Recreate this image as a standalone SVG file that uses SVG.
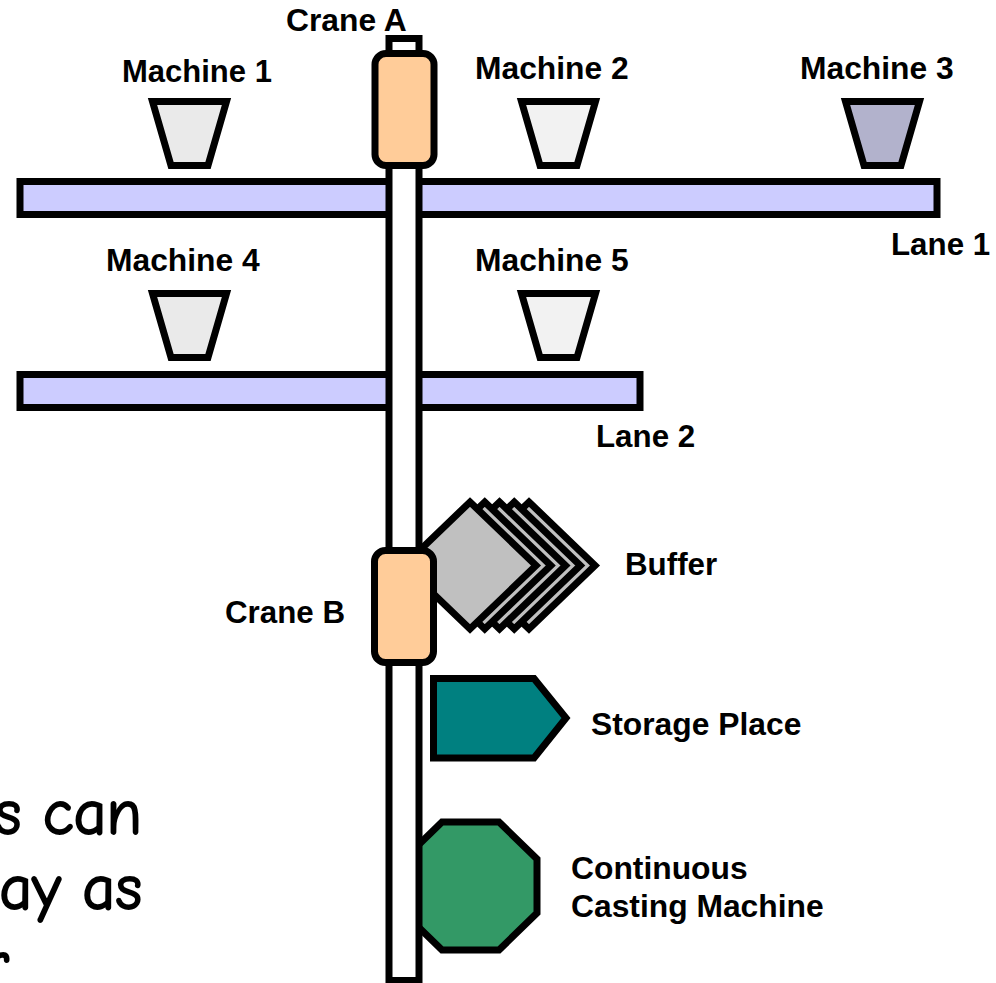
<svg xmlns="http://www.w3.org/2000/svg" width="996" height="983" viewBox="0 0 996 983">
<defs>
<style>
.s{stroke:#000;stroke-width:7;stroke-linejoin:miter}
.t{font-family:"Liberation Sans",Arial,sans-serif;font-weight:bold;font-size:31.800px;fill:#000}
.n{font-size:31px}
.l{font-size:31.300px}
.h{font-family:"Comic Sans MS","Comic Neue",cursive;font-size:64px;fill:#000;stroke:#000;stroke-width:1.800px}
.lane{fill:#ccccff}
.crane{fill:#ffcc99}
</style>
<polygon id="trap" points="152.500,101.500 226.500,101.500 208,165.500 171,165.500"/>
<polygon id="dia" points="470,502 536,565.500 470,629 404,565.500"/>
</defs>
<rect width="996" height="983" fill="#fff"/>
<g id="note"><text class="h" x="142" y="834" text-anchor="end">s can</text><text class="h" x="142" y="909" text-anchor="end">ay as</text><text class="h" x="9" y="985" text-anchor="end">r</text></g>
<g id="lane-1"><rect class="s lane" x="20" y="181.500" width="917" height="33"/><text class="t l" x="891" y="255">Lane 1</text></g>
<g id="lane-2"><rect class="s lane" x="20" y="374.500" width="620" height="33"/><text class="t l" x="596" y="447">Lane 2</text></g>
<g id="machine-1"><use href="#trap" class="s" fill="#eaeaea"/><text class="t n" x="122" y="82">Machine 1</text></g>
<g id="machine-2"><use href="#trap" x="369" class="s" fill="#f2f2f2"/><text class="t" x="475" y="79">Machine 2</text></g>
<g id="machine-3"><use href="#trap" x="693" class="s" fill="#b2b2cc"/><text class="t" x="800" y="79">Machine 3</text></g>
<g id="machine-4"><use href="#trap" y="192" class="s" fill="#eaeaea"/><text class="t" x="106" y="271">Machine 4</text></g>
<g id="machine-5"><use href="#trap" x="369" y="192" class="s" fill="#f2f2f2"/><text class="t" x="475" y="271">Machine 5</text></g>
<g id="buffer">
<use href="#dia" x="59" class="s" fill="#c0c0c0"/><use href="#dia" x="44.250" class="s" fill="#c0c0c0"/><use href="#dia" x="29.500" class="s" fill="#c0c0c0"/><use href="#dia" x="14.750" class="s" fill="#c0c0c0"/><use href="#dia" class="s" fill="#c0c0c0"/>
<text class="t l" x="625" y="575">Buffer</text></g>
<g id="storage-place"><polygon class="s" fill="#008080" points="433.500,678.500 534,678.500 566,718 534,758 433.500,758"/><text class="t" x="591" y="735">Storage Place</text></g>
<g id="casting-machine"><polygon class="s" fill="#339966" points="442,822 499,822 537,859 537,913 499,950 442,950 404,913 404,859"/><text class="t" x="571" y="879">Continuous</text><text class="t" x="571" y="917">Casting Machine</text></g>
<g id="connectors"><rect class="s" x="389" y="38.500" width="30" height="942" fill="#fff"/></g>
<g id="crane-a"><rect class="s crane" x="375" y="53.500" width="59" height="112" rx="11"/><text class="t" x="286" y="31">Crane A</text></g>
<g id="crane-b"><rect class="s crane" x="374.500" y="550.500" width="59" height="112" rx="11"/><text class="t l" x="225" y="623">Crane B</text></g>
</svg>
